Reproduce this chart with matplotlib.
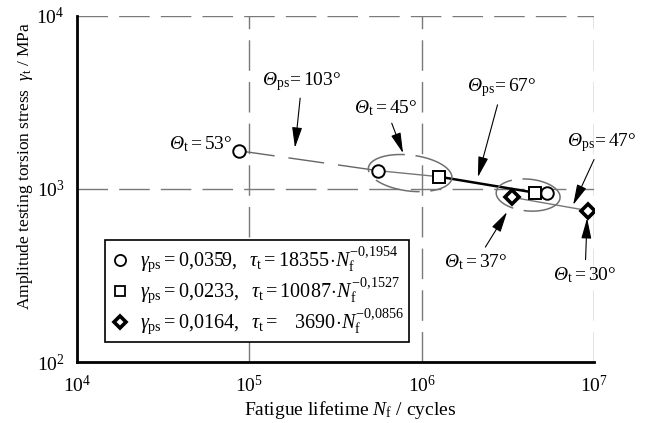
import numpy as np
import matplotlib
matplotlib.use('Agg')
import matplotlib.pyplot as plt
from matplotlib.lines import Line2D

plt.rcParams['font.family'] = ['Liberation Serif', 'DejaVu Serif']
plt.rcParams['mathtext.fontset'] = 'custom'
plt.rcParams['mathtext.rm'] = 'Liberation Serif'
plt.rcParams['mathtext.it'] = 'Liberation Serif:italic'
plt.rcParams['mathtext.bf'] = 'Liberation Serif:bold'
# \mathcal is used only to get an italic capital Theta
plt.rcParams['mathtext.cal'] = 'Liberation Serif:italic'

# data points (Nf, tau_t)
circ_N   = [8.7e4, 5.6e5, 5.32e6]
circ_tau = [1663, 1276, 952]
sq_N     = [1.26e6, 4.55e6]
sq_tau   = [1178, 952]
dia_N    = [3.36e6, 9.28e6]
dia_tau  = [895, 749]

legend_labels = [
    r'$\mathit{γ}_{\rm ps} = 0{,}0359,\ \ \mathit{τ}_{\rm t} = 18355\!\cdot\! \mathit{N}_{\rm f}^{-0{,}1954}$',
    r'$\mathit{γ}_{\rm ps} = 0{,}0233,\ \ \mathit{τ}_{\rm t} = 10087\!\cdot\! \mathit{N}_{\rm f}^{-0{,}1527}$',
    r'$\mathit{γ}_{\rm ps} = 0{,}0164,\ \ \mathit{τ}_{\rm t} = \ \ \ 3690\!\cdot\! \mathit{N}_{\rm f}^{-0{,}0856}$',
]

GRAY = '#7a7a7a'

fig = plt.figure(figsize=(6.51, 4.23), dpi=100)
ax = fig.add_axes([0.1183, 0.1442, 0.7941, 0.818])
ax.set_xscale('log')
ax.set_yscale('log')
ax.set_xlim(1e4, 1e7)
ax.set_ylim(1e2, 1e4)

# grid + dashed top/right frame
dash = (22, 8)
for xv in [1e5, 1e6, 1e7]:
    ax.axvline(xv, color=GRAY, lw=1.0, dashes=dash, zorder=1)
for yv in [1e3, 1e4]:
    ax.axhline(yv, color=GRAY, lw=1.0, dashes=dash, zorder=1)
for s in ['top', 'right']:
    ax.spines[s].set_visible(False)
for s in ['left', 'bottom']:
    ax.spines[s].set_linewidth(2.0)
ax.tick_params(which='both', length=0, labelsize=14, pad=9)
ax.set_xticks([1e4, 1e5, 1e6, 1e7])
ax.set_yticks([1e2, 1e3, 1e4])
ax.minorticks_off()

# connecting lines
ax.plot(circ_N[:2], circ_tau[:2], color='#666666', lw=1.0, dashes=(26, 10), zorder=2)
ax.plot([circ_N[1], sq_N[0]], [circ_tau[1], sq_tau[0]], color='#777777', lw=1.0, zorder=2)
ax.plot(sq_N, sq_tau, color='black', lw=1.8, zorder=2)
ax.plot(dia_N, dia_tau, color='#777777', lw=1.0, zorder=2)

# ellipses (drawn in log space so they stay elliptical)
def log_ellipse(cx, cy, a, b, ang):
    t = np.linspace(0, 2 * np.pi, 200)
    th = np.deg2rad(ang)
    lx = cx + a * np.cos(t) * np.cos(th) - b * np.sin(t) * np.sin(th)
    ly = cy + a * np.cos(t) * np.sin(th) + b * np.sin(t) * np.cos(th)
    return 10 ** lx, 10 ** ly

ex, ey = log_ellipse(5.933, 3.092, 0.244, 0.104, -7)
ax.plot(ex, ey, color='#707070', lw=1.1, dashes=(30, 7), zorder=2)
ex, ey = log_ellipse(6.618, 2.965, 0.186, 0.092, -5)
ax.plot(ex, ey, color='#707070', lw=1.1, dashes=(30, 7), zorder=2)

# markers
ax.plot(circ_N, circ_tau, 'o', ms=9, mfc='white', mec='black', mew=1.4, ls='none', zorder=4)
ax.plot(sq_N, sq_tau, 's', ms=8.5, mfc='white', mec='black', mew=1.4, ls='none', zorder=4)
ax.plot(dia_N, dia_tau, 'D', ms=7, mfc='white', mec='black', mew=2.6, ls='none', zorder=4)

# annotations
fs = 14
TH = r'\mathcal{Θ}'
ax.text(8.0e4, 1.82e3, rf'${TH}_{{\rm t}} = 53°$', fontsize=fs, ha='right', va='center')
arr = dict(arrowstyle='-|>,head_length=0.9,head_width=0.22', color='black', lw=0.8,
           shrinkA=2, shrinkB=0)
notes = [
    (rf'${TH}_{{\rm ps}}\!= 103°$', (1.84e5, 1.73e3), (2.02e5, 4.2e3)),
    (rf'${TH}_{{\rm t}} = 45°$', (7.8e5, 1.61e3), (6.21e5, 2.94e3)),
    (rf'${TH}_{{\rm ps}}\!= 67°$', (2.12e6, 1.17e3), (2.93e6, 3.84e3)),
    (rf'${TH}_{{\rm ps}}\!= 47°$', (7.57e6, 809), (1.11e7, 1.85e3)),
    (rf'${TH}_{{\rm t}} = 37°$', (3.13e6, 736), (2.07e6, 378)),
    (rf'${TH}_{{\rm t}} = 30°$', (9.12e6, 679), (8.87e6, 318)),
]
for txt, tip, pos in notes:
    ax.annotate(txt, xy=tip, xytext=pos, fontsize=fs, ha='center', va='center',
                arrowprops=arr, annotation_clip=False, zorder=5)

# legend
handles = [
    Line2D([], [], marker='o', ms=8, mfc='white', mec='black', mew=1.3, ls='none'),
    Line2D([], [], marker='s', ms=7.5, mfc='white', mec='black', mew=1.3, ls='none'),
    Line2D([], [], marker='D', ms=6.5, mfc='white', mec='black', mew=2.6, ls='none'),
]
leg = ax.legend(handles, legend_labels, loc='lower left', bbox_to_anchor=(0.054, 0.058),
                fontsize=14.5, frameon=True, fancybox=False, framealpha=1,
                edgecolor='black', handlelength=1.0, handletextpad=0.5,
                labelspacing=0.02, borderpad=0.25, borderaxespad=0)
leg.get_frame().set_linewidth(1.2)
leg.set_zorder(6)

fig.text(350 / 651, 1 - 410 / 423, r'Fatigue lifetime $\mathit{N}_{\rm f}$ / cycles',
         fontsize=14, ha='center', va='center')
fig.text(25 / 651, 1 - 166 / 423, r'Amplitude testing torsion stress  $\mathit{γ}_{\rm t}$ / MPa',
         fontsize=12.5, ha='center', va='center', rotation=90)

fig.savefig('out.png', dpi=100)
